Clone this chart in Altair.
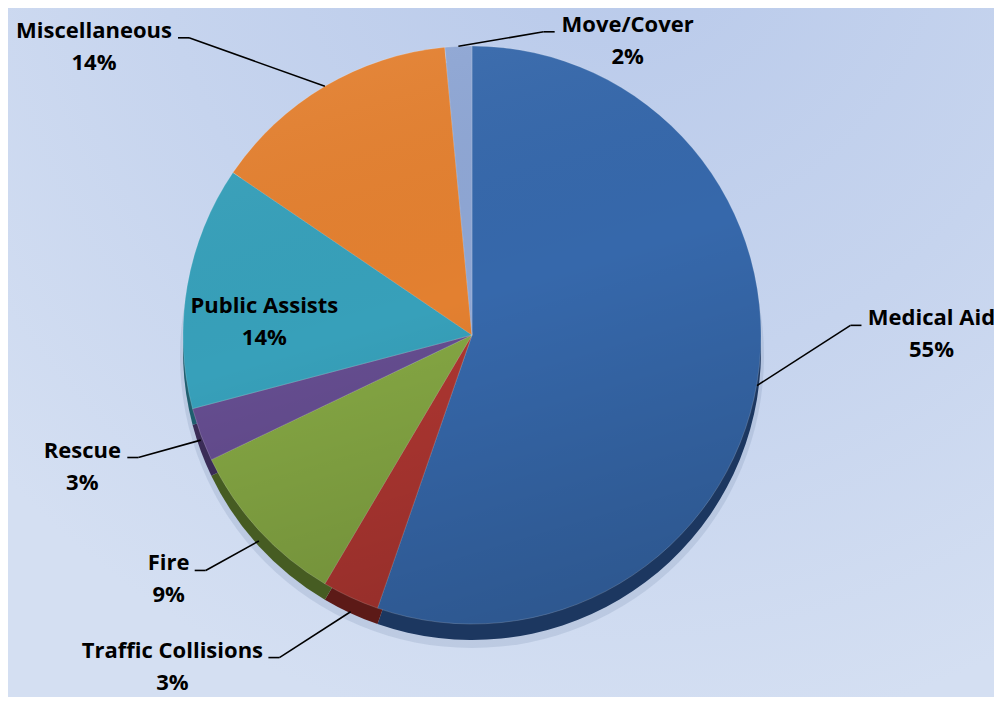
import math
import altair as alt
import pandas as pd

# ---- data ----
CATEGORIES = ["Medical Aid", "Traffic Collisions", "Fire", "Rescue",
              "Public Assists", "Miscellaneous", "Move/Cover"]
VALUES = [55.3, 3.2, 9.4, 3.0, 13.6, 14.0, 1.5]

# ---- styles ----
PALETTE = ["#3668AB", "#AE3631", "#84A643", "#654D90", "#37A0BA", "#E38030", "#8EA6D4"]
DARK = ["#1C3760", "#5C1A17", "#465C22", "#3A2C56", "#1F5E6E", "#8A4A18", "#56698E"]
FONT = "Open Sans"

# ---- layout ----
W, H = 986, 689
CX, CY, R, DEPTH = 464, 327, 289, 16
# label placement: angle shift (deg) from slice mid-angle, radius factor, side, label centre offset
LABEL_LAYOUT = {
    "Medical Aid":        (-11, 1.31, 1, 81),
    "Traffic Collisions": (6, 1.30, -1, -107),
    "Fire":               (1, 1.23, -1, -37),
    "Rescue":             (0, 1.23, -1, -56),
    "Public Assists":     (-6, 0.72, 0, 0),
    "Miscellaneous":      (-13, 1.42, -1, -95),
    "Move/Cover":         (16, 1.078, 1, 84),
}

total = sum(VALUES)
rows, segs, labels = [], [], []
cum = 0.0
for i, (cat, v) in enumerate(zip(CATEGORIES, VALUES)):
    mid = (cum + v / 2) / total * 2 * math.pi
    cum += v
    rows.append({"category": cat, "value": v, "idx": i})
    shift, rf, side, dx = LABEL_LAYOUT[cat]
    pct = f"{int(v / total * 100 + 0.5)}%"
    a = mid + math.radians(shift)
    ex = CX + rf * R * math.sin(a)
    ey = CY - rf * R * math.cos(a)
    if side == 0:
        labels.append({"lx": ex, "ly": ey - 8, "label": f"{cat}\n{pct}"})
        continue
    sx = CX + R * math.sin(mid)
    sy = CY - R * math.cos(mid) + DEPTH * max(0.0, -math.cos(mid))
    hx = ex + 11 * side
    segs.append({"x": sx, "y": sy, "x2": ex, "y2": ey})
    segs.append({"x": ex, "y": ey, "x2": hx, "y2": ey})
    labels.append({"lx": ex + dx, "ly": ey, "label": f"{cat}\n{pct}"})

df = pd.DataFrame(rows)
seg_df = pd.DataFrame(segs)
lab_df = pd.DataFrame(labels)

bg = alt.Chart(pd.DataFrame({"k": [0]})).mark_rect(
    fill=alt.RadialGradient(
        gradient="radial", x1=0.62, y1=0.05, x2=0.62, y2=0.05, r1=0, r2=0.85,
        stops=[alt.GradientStop(offset=0, color="#B8C9EA"),
               alt.GradientStop(offset=0.55, color="#C6D4EE"),
               alt.GradientStop(offset=1, color="#D4DFF2")])
).encode(x=alt.value(0), x2=alt.value(W), y=alt.value(0), y2=alt.value(H))

shadow = alt.Chart(pd.DataFrame({"k": [0]})).mark_arc(
    theta=0, theta2=2 * math.pi, radius=R + 3, fill="#5A6E96", opacity=0.16
).encode(x=alt.value(CX), y=alt.value(CY + DEPTH + 5))

depth = alt.Chart(df).mark_arc(radius=R).encode(
    theta=alt.Theta("value:Q", stack=True),
    order=alt.Order("idx:Q"),
    color=alt.Color("category:N", scale=alt.Scale(domain=CATEGORIES, range=DARK), legend=None),
    x=alt.value(CX), y=alt.value(CY + DEPTH),
)

pie = alt.Chart(df).mark_arc(radius=R, stroke="#ffffff", strokeWidth=0.6, strokeOpacity=0.3).encode(
    theta=alt.Theta("value:Q", stack=True),
    order=alt.Order("idx:Q"),
    color=alt.Color("category:N", scale=alt.Scale(domain=CATEGORIES, range=PALETTE), legend=None),
    x=alt.value(CX), y=alt.value(CY),
)

shade = alt.Chart(pd.DataFrame({"k": [0]})).mark_arc(
    theta=0, theta2=2 * math.pi, radius=R,
    fill=alt.LinearGradient(
        gradient="linear", x1=0.3, y1=0, x2=0.6, y2=1,
        stops=[alt.GradientStop(offset=0, color="rgba(255,255,255,0.05)"),
               alt.GradientStop(offset=0.45, color="rgba(0,0,0,0)"),
               alt.GradientStop(offset=1, color="rgba(0,0,0,0.16)")])
).encode(x=alt.value(CX), y=alt.value(CY))

lines = alt.Chart(seg_df).mark_rule(color="#000000", strokeWidth=1.6).encode(
    x=alt.X("x:Q", scale=None, axis=None), y=alt.Y("y:Q", scale=None, axis=None),
    x2="x2:Q", y2="y2:Q",
)

text = alt.Chart(lab_df).mark_text(
    align="center", baseline="alphabetic", lineBreak="\n", font=FONT,
    fontSize=22, fontWeight="bold", lineHeight=32, color="#000000",
).encode(
    x=alt.X("lx:Q", scale=None, axis=None), y=alt.Y("ly:Q", scale=None, axis=None),
    text="label:N",
)

chart = alt.layer(bg, shadow, depth, pie, shade, lines, text).resolve_scale(
    color="independent"
).properties(
    width=W, height=H, padding=0, autosize="none", background="#C8D6EF"
).configure_view(strokeWidth=0)

chart.save("out.html", embed_options={"renderer": "svg", "actions": False})
